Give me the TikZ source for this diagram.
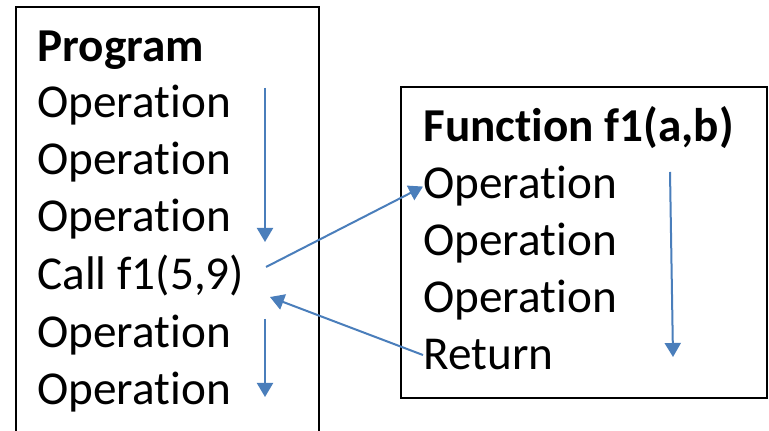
\documentclass[tikz,border=0pt]{standalone}
\usepackage{fontspec}
\setmainfont{Carlito}[Ligatures={NoCommon}]
\usetikzlibrary{arrows.meta}
\definecolor{arrowblue}{RGB}{74,126,187}
\tikzset{
    txt/.style={anchor=base west, inner sep=0pt, font=\fontsize{23.6pt}{28pt}\selectfont},
    flow/.style={draw=arrowblue, line width=1pt, -{Triangle[length=7pt,width=8pt]}},
    frame/.style={draw=black, line width=0.8pt}
}
\begin{document}
\begin{tikzpicture}[x=0.5pt,y=-0.5pt]
    \useasboundingbox[fill=white] (0,0) rectangle (769,431);
    % Cadres
    \draw[frame] (16,7) rectangle (319,445); % Programme
    \draw[frame] (401,87) rectangle (767,398); % Fonction
    % Programme
    \node[txt] (prog) at (37,62) {\bfseries Program};
    \node[txt] (op1) at (37,118) {Operation};
    \node[txt] (op2) at (37,175) {Operation};
    \node[txt] (op3) at (37,232) {Operation};
    \node[txt] (call) at (37,290) {Call f1(5,9)};
    \node[txt] (op4) at (37,348) {Operation};
    \node[txt] (op5) at (37,405) {Operation};
    % Fonction
    \node[txt] (func) at (423,142) {\bfseries Function f1(a,b)};
    \node[txt] (fop1) at (423,199) {Operation};
    \node[txt] (fop2) at (423,256) {Operation};
    \node[txt] (fop3) at (423,313) {Operation};
    \node[txt] (ret) at (423,370) {Return};
    % Points des fleches
    \coordinate (a1) at (265,88);
    \coordinate (b1) at (265,242);
    \coordinate (a2) at (265,319);
    \coordinate (b2) at (265,397);
    \coordinate (callout) at (266,267);
    \coordinate (callin) at (270,297);
    \coordinate (a3) at (670,172);
    \coordinate (b3) at (673,357);
    % Fleches
    \draw[flow] (a1) -- (b1); % Avant appel
    \draw[flow] (a2) -- (b2); % Apres appel
    \draw[flow] (callout) -- (fop1.west); % Appel
    \draw[flow] (ret.west) -- (callin); % Retour
    \draw[flow] (a3) -- (b3); % Dans la fonction
\end{tikzpicture}
\end{document}
